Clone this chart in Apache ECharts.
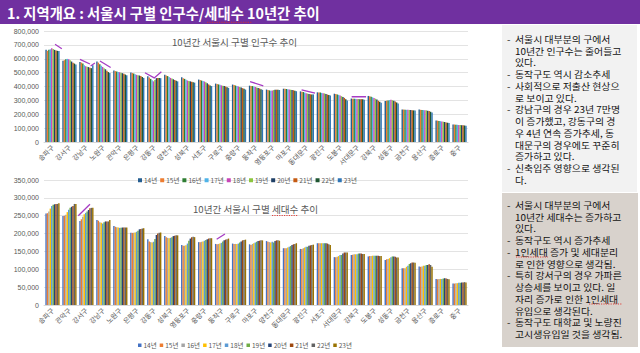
<!DOCTYPE html>
<html><head><meta charset="utf-8">
<script src="https://cdn.jsdelivr.net/npm/echarts@6/dist/echarts.min.js"></script>
<style>html,body{margin:0;padding:0;background:#fff}#c{width:640px;height:353px}</style>
</head><body><div id="c"></div>
<script>
// ---------- DATA ----------
const years = ['14년','15년','16년','17년','18년','19년','20년','21년','22년','23년'];

const popDistricts = ['송파구','강서구','강남구','노원구','관악구','은평구','강동구','양천구','성북구','서초구','구로구','중랑구','동작구','영등포구','마포구','동대문구','광진구','도봉구','서대문구','강북구','성동구','금천구','용산구','종로구','중구'];
const hhDistricts = ['송파구','관악구','강서구','강남구','노원구','은평구','강동구','성북구','영등포구','중랑구','동작구','구로구','마포구','양천구','동대문구','광진구','서초구','서대문구','강북구','도봉구','성동구','금천구','용산구','종로구','중구'];

// population per district (popDistricts order, cols: 14년..23년)
const popSongpa   = [664000,657000,665000,668000,676000,670000,664000,660000,657000,655000];
const popGangseo  = [586000,590000,597000,599000,596000,590000,580000,572000,565000,558000];
const popGangnam  = [576000,572000,565000,553000,546000,543000,540000,536000,532000,553000];
const popNowon    = [580000,572000,560000,550000,541000,532000,524000,514000,504000,497000];
const popGwanak   = [516000,511000,508000,505000,503000,500000,496000,491000,486000,481000];
const popEunpyeong= [501000,497000,493000,488000,484000,481000,479000,475000,468000,462000];
const popGangdong = [473000,465000,455000,445000,437000,447000,460000,461000,461000,460000];
const popYangcheon= [485000,480000,475000,469000,462000,457000,452000,447000,441000,437000];
const popSeongbuk = [466000,460000,455000,448000,443000,440000,437000,434000,430000,428000];
const popSeocho   = [450000,447000,443000,440000,436000,431000,424000,415000,408000,403000];
const popGuro     = [421000,418000,415000,412000,408000,405000,403000,400000,395000,390000];
const popJungnang = [414000,410000,407000,404000,400000,397000,393000,388000,383000,378000];
const popDongjak  = [406000,404000,403000,400000,397000,393000,390000,386000,380000,376000];
const popYeongdeungpo=[378000,374000,372000,370000,372000,374000,376000,377000,376000,375000];
const popMapo     = [384000,383000,382000,380000,378000,377000,375000,373000,370000,366000];
const popDongdaemun= [365000,363000,360000,356000,352000,349000,346000,344000,342000,343000];
const popGwangjin = [358000,357000,356000,354000,352000,350000,346000,342000,338000,335000];
const popDobong   = [348000,346000,343000,340000,335000,330000,325000,318000,308000,300000];
const popSeodaemun= [313000,312000,311000,311000,310000,310000,309000,309000,308000,305000];
const popGangbuk  = [332000,329000,326000,322000,317000,312000,306000,298000,290000,283000];
const popSeongdong= [296000,298000,300000,302000,304000,301000,297000,292000,285000,278000];
const popGeumcheon= [234000,234000,233000,232000,232000,231000,230000,229000,228000,227000];
const popYongsan  = [234000,232000,231000,230000,229000,228000,226000,224000,218000,212000];
const popJongno   = [155000,154000,152000,150000,148000,146000,144000,141000,139000,137000];
const popJunggu   = [126000,126000,125000,124000,123000,122000,121000,120000,119000,118000];

// households per district (hhDistricts order)
const hhSongpa    = [256000,257000,262000,270000,277000,281000,282000,283000,283000,285000];
const hhGwanak    = [249000,250000,253000,260000,267000,272000,275000,277000,283000,283000];
const hhGangseo   = [235000,240000,247000,254000,258000,262000,266000,271000,272000,272000];
const hhGangnam   = [238000,236000,232000,230000,228000,232000,234000,234000,234000,238000];
const hhNowon     = [221000,219000,218000,217000,216000,216000,217000,217000,217000,217000];
const hhEunpyeong = [202000,202000,202000,203000,205000,208000,212000,213000,214000,215000];
const hhGangdong  = [184000,178000,176000,175000,177000,185000,196000,200000,202000,203000];
const hhSeongbuk  = [193000,190000,188000,187000,188000,190000,193000,194000,195000,195000];
const hhYeongdeungpo=[168000,166000,166000,167000,172000,180000,186000,190000,191000,190000];
const hhJungnang  = [176000,176000,177000,178000,180000,182000,184000,186000,187000,187000];
const hhDongjak   = [171000,170000,171000,172000,174000,178000,181000,183000,184000,186000];
const hhGuro      = [172000,171000,171000,171000,172000,175000,178000,181000,182000,183000];
const hhMapo      = [170000,168000,171000,173000,175000,177000,179000,180000,181000,181000];
const hhYangcheon = [179000,177000,176000,175000,177000,175000,179000,181000,181000,180000];
const hhDongdaemun= [159000,159000,159000,161000,163000,165000,168000,170000,171000,173000];
const hhGwangjin  = [157000,157000,159000,161000,163000,163000,166000,167000,168000,169000];
const hhSeocho    = [173000,173000,173000,173000,173000,173000,173000,172000,170000,168000];
const hhSeodaemun = [134000,134000,135000,137000,140000,140000,144000,147000,147000,147000];
const hhGangbuk   = [140000,141000,142000,142000,142000,144000,144000,144000,143000,143000];
const hhDobong    = [136000,137000,137000,138000,138000,138000,138000,138000,137000,137000];
const hhSeongdong = [126000,128000,129000,131000,134000,136000,136000,135000,133000,133000];
const hhGeumcheon = [103000,103000,103000,107000,110000,115000,117000,119000,119000,118000];
const hhYongsan   = [108000,107000,108000,110000,110000,112000,112000,114000,112000,107000];
const hhJongno    = [73000,72000,73000,73000,73000,74000,75000,74000,73000,72000];
const hhJunggu    = [60000,60000,61000,61000,62000,62000,63000,63000,64000,63000];

const popRows = [popSongpa,popGangseo,popGangnam,popNowon,popGwanak,popEunpyeong,popGangdong,popYangcheon,popSeongbuk,popSeocho,popGuro,popJungnang,popDongjak,popYeongdeungpo,popMapo,popDongdaemun,popGwangjin,popDobong,popSeodaemun,popGangbuk,popSeongdong,popGeumcheon,popYongsan,popJongno,popJunggu];
const hhRows = [hhSongpa,hhGwanak,hhGangseo,hhGangnam,hhNowon,hhEunpyeong,hhGangdong,hhSeongbuk,hhYeongdeungpo,hhJungnang,hhDongjak,hhGuro,hhMapo,hhYangcheon,hhDongdaemun,hhGwangjin,hhSeocho,hhSeodaemun,hhGangbuk,hhDobong,hhSeongdong,hhGeumcheon,hhYongsan,hhJongno,hhJunggu];

// annotation arrows: [category position, value] pairs
const popArrows = [
  [[0.15,704000],[0.55,672000]],
  [[1.62,596000],[2.21,562000]],
  [[2.25,548000],[2.5,570000]],
  [[2.8,584000],[3.43,537000]],
  [[5.45,499000],[6.0,462000],[6.42,507000]],
  [[11.65,435000],[12.43,405000]],
  [[14.69,375000],[15.48,352000]],
  [[17.64,326000],[18.49,326000]]
];
const hhArrows = [
  [[1.52,250000],[2.21,282000]],
  [[9.68,184000],[10.17,199000]]
];

const popColors = ['#255e91','#ed7d31','#2e7d32','#4fb3e8','#c845b8','#8cc63f','#1f3f66','#c55a11','#1e5631','#2e75b6'];
const hhColors  = ['#4472c4','#ed7d31','#a5a5a5','#ffc000','#5b9bd5','#70ad47','#264478','#9e480e','#636363','#997300'];

const titleText = '1. 지역개요 : 서울시 구별 인구수/세대수 10년간 추이';
const popTitle = '10년간 서울시 구별 인구수 추이';
const hhTitle = '10년간 서울시 구별 세대수 추이';

const notesTop = [
  ['서울시 대부분의 구에서','10년간 인구수는 줄어들고','있다.'],
  ['동작구도 역시 감소추세'],
  ['사회적으로 저출산 현상으','로 보이고 있다.'],
  ['강남구의 경우 23년 7만명','이 증가했고, 강동구의 경','우 4년 연속 증가추세, 동','대문구의 경우에도 꾸준히','증가하고 있다.'],
  ['신축입주 영향으로 생각된','다.']
];
const notesBottom = [
  ['서울시 대부분의 구에서','10년간 세대수는 증가하고','있다.'],
  ['동작구도 역시 증가추세'],
  ['1인세대 증가 및 세대분리','로 인한 영향으로 생각됨.'],
  ['특히 강서구의 경우 가파른','상승세를 보이고 있다. 일','자리 증가로 인한 1인세대','유입으로 생각된다.'],
  ['동작구도 대학교 및 노량진','고시생유입일 것을 생각됨.']
];

// ---------- CHART ----------
const FONT = '"Noto Sans CJK KR", "Noto Sans", sans-serif';
const chart = echarts.init(document.getElementById('c'), null, {renderer:'svg', width:640, height:353});

function col(rows, i){ return rows.map(r => r[i]); }
const fmt = v => v.toLocaleString('en-US');

const series = [];
years.forEach((y,i) => {
  series.push({type:'bar', name:y, xAxisIndex:0, yAxisIndex:0, data: col(popRows,i),
    itemStyle:{color:popColors[i]}, barGap:'0%', barCategoryGap:'16%', silent:true});
});
years.forEach((y,i) => {
  series.push({type:'bar', name:y, xAxisIndex:1, yAxisIndex:1, data: col(hhRows,i),
    itemStyle:{color:hhColors[i]}, barGap:'0%', barCategoryGap:'16%', silent:true});
});
const arrowStyle = {color:'#a63cc4', width:1.3, opacity:1};
series.push({type:'lines', coordinateSystem:'cartesian2d', xAxisIndex:2, yAxisIndex:0, polyline:true,
  symbol:['none','arrow'], symbolSize:5, lineStyle:arrowStyle, silent:true,
  data: popArrows.map(a => ({coords:a}))});
series.push({type:'lines', coordinateSystem:'cartesian2d', xAxisIndex:3, yAxisIndex:1, polyline:true,
  symbol:['none','arrow'], symbolSize:5, lineStyle:arrowStyle, silent:true,
  data: hhArrows.map(a => ({coords:a}))});

const catAxis = (gi, data) => ({type:'category', gridIndex:gi, data,
  axisTick:{show:false}, axisLine:{lineStyle:{color:'#d9d9d9'}},
  axisLabel:{rotate:45, interval:0, fontSize:6.8, color:'#595959', margin:4, fontFamily:FONT}});
const valAxis = (gi, max, step) => ({type:'value', gridIndex:gi, min:0, max, interval:step,
  axisLine:{show:false}, axisTick:{show:false},
  splitLine:{lineStyle:{color:'#e3e3e3', width:1}},
  axisLabel:{formatter:fmt, fontSize:7, color:'#595959', margin:5, fontFamily:'"Liberation Sans", Arial, sans-serif'}});

const legendText = {fontSize:6.5, color:'#595959', fontFamily:FONT, padding:[0,0,0,-3]};

// graphics
const spell = (x1, x2, y) => ({type:'polyline', shape:{points:[[x1,y],[x2,y]]},
  style:{stroke:'#e0302a', lineWidth:0.9, lineDash:[1.2,1.2], fill:null}, silent:true, z:10});
const graphics = [
  {type:'rect', shape:{x:0,y:0,width:640,height:24}, style:{fill:'#7030a0'}, silent:true},
  {type:'text', x:7, y:12.5, style:{text:titleText, fill:'#ffffff', font:'bold 14.3px '+FONT, verticalAlign:'middle'}, silent:true},
  spell(207, 252, 22.3),
  spell(272, 298, 215.5),
  {type:'rect', shape:{x:502,y:25,width:135,height:167}, style:{fill:'#f2f2f2'}, silent:true},
  {type:'rect', shape:{x:502,y:193,width:136,height:154}, style:{fill:'#d8d2cc'}, silent:true}
];
function addNotes(notes, firstY, lh){
  const dashes = [], lines = [];
  notes.forEach(p => p.forEach((line, k) => { dashes.push(k === 0 ? '-' : ' '); lines.push(line); }));
  const top = firstY - lh / 2;
  graphics.push({type:'text', x:507, y:top, scaleX:1.1, style:{text:dashes.join('\n'), fill:'#111111', font:'9px '+FONT, verticalAlign:'top', lineHeight:lh}, silent:true});
  graphics.push({type:'text', x:515, y:top, scaleX:1.1, style:{text:lines.join('\n'), fill:'#111111', font:'9px '+FONT, verticalAlign:'top', lineHeight:lh}, silent:true});
}
addNotes(notesTop, 39, 11.75);
addNotes(notesBottom, 205, 11.75);
// spell-check marks in the lower note box
graphics.push(spell(516, 548, 257));
graphics.push(spell(589, 622, 304));

chart.setOption({
  animation:false,
  backgroundColor:'#ffffff',
  textStyle:{fontFamily:FONT},
  title:[
    {text:popTitle, left:172, top:37, padding:0, textStyle:{fontSize:9.6, fontWeight:'normal', color:'#595959', fontFamily:FONT}},
    {text:hhTitle, left:193, top:204, padding:0, textStyle:{fontSize:9.6, fontWeight:'normal', color:'#595959', fontFamily:FONT}}
  ],
  legend:[
    {left:133, top:172, itemWidth:4, itemHeight:4, itemGap:3, icon:'rect', selectedMode:false,
     textStyle:legendText, data: years.map((y,i)=>({name:y, itemStyle:{color:popColors[i]}}))},
    {left:133, top:337, itemWidth:3.5, itemHeight:3.5, itemGap:3, icon:'rect', selectedMode:false,
     textStyle:legendText, data: years.map((y,i)=>({name:y, itemStyle:{color:hhColors[i]}}))}
  ],
  grid:[
    {left:44, top:31, width:424, height:111},
    {left:44, top:180, width:424, height:125}
  ],
  xAxis:[
    catAxis(0, popDistricts),
    catAxis(1, hhDistricts),
    {type:'value', gridIndex:0, min:-0.5, max:24.5, show:false},
    {type:'value', gridIndex:1, min:-0.5, max:24.5, show:false}
  ],
  yAxis:[
    valAxis(0, 800000, 100000),
    valAxis(1, 350000, 50000)
  ],
  graphic: graphics,
  series
});
</script></body></html>
